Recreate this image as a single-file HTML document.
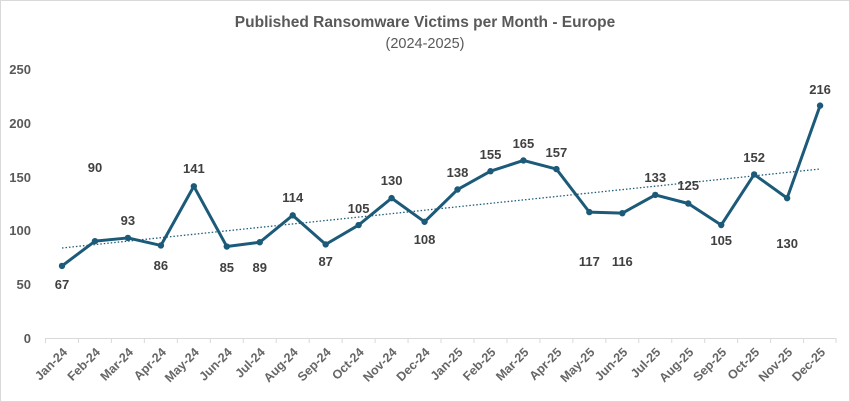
<!DOCTYPE html>
<html><head><style>
html,body{margin:0;padding:0;background:#fff}
svg{display:block}
text{font-family:"Liberation Sans",sans-serif}
</style></head><body>
<svg width="850" height="402" viewBox="0 0 850 402" xmlns="http://www.w3.org/2000/svg">
<rect x="0.5" y="0.5" width="849" height="401" fill="#fff" stroke="#d9d9d9"/>
<text x="425" y="27" text-anchor="middle" font-size="15.5" font-weight="bold" fill="#595959">Published Ransomware Victims per Month - Europe</text>
<text x="425" y="48" text-anchor="middle" font-size="14.5" fill="#595959">(2024-2025)</text>
<g font-size="13" font-weight="bold" fill="#595959" text-anchor="end">
<text x="31" y="74">250</text><text x="31" y="128">200</text><text x="31" y="182">150</text>
<text x="31" y="235">100</text><text x="31" y="289">50</text><text x="31" y="343">0</text>
</g>
<line x1="45" y1="338.5" x2="836" y2="338.5" stroke="#d9d9d9"/>
<g id="ticks" stroke="#d9d9d9"></g>
<g id="xl" font-size="12.5" font-weight="bold" fill="#666" text-anchor="end"></g>
<line x1="62" y1="248" x2="820" y2="169" stroke="#1f5c7a" stroke-width="1.3" stroke-dasharray="1.5,2"/>
<polyline id="ln" fill="none" stroke="#1b5a78" stroke-width="3" stroke-linejoin="round"/>
<g id="pts" fill="#1b5a78"></g>
<g id="dl" font-size="13" font-weight="bold" fill="#404040" text-anchor="middle"></g>
</svg>
<script>
var v=[67,90,93,86,141,85,89,114,87,105,130,108,138,155,165,157,117,116,133,125,105,152,130,216];
var ly=[289,172,225,270,173,272,272,202,266,213,185,244,177,159,148,157,266,266,182,190,245,162,248,94];
var m=["Jan","Feb","Mar","Apr","May","Jun","Jul","Aug","Sep","Oct","Nov","Dec"];
var ns="http://www.w3.org/2000/svg",pts=[];
function el(t,a,p,tx){var e=document.createElementNS(ns,t);for(var k in a)e.setAttribute(k,a[k]);if(tx)e.textContent=tx;document.getElementById(p).appendChild(e);}
for(var i=0;i<24;i++){var x=62+i*32.96,y=338-v[i]*1.076;pts.push(x+","+y);
el("circle",{cx:x,cy:y,r:3.2},"pts");
el("text",{x:x,y:ly[i]},"dl",""+v[i]);
el("line",{x1:x-16.5,y1:338,x2:x-16.5,y2:343},"ticks");
var lab=m[i%12]+"-"+(i<12?"24":"25");
var ax=x+6,ay=353;
el("text",{x:ax,y:ay,transform:"rotate(-45 "+ax+" "+ay+")"},"xl",lab);}
el("line",{x1:836,y1:338,x2:836,y2:343},"ticks");
document.getElementById("ln").setAttribute("points",pts.join(" "));
</script>
</body></html>
